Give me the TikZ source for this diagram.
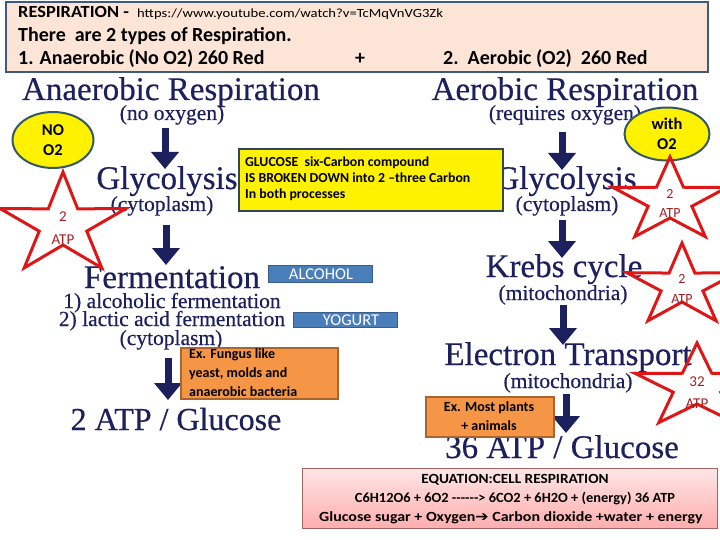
\documentclass[tikz,border=0pt]{standalone}
\usepackage{fontspec}
\usepackage{graphicx}
\setmainfont{Carlito}
\newfontfamily\seriffam{Liberation Serif}[FakeBold=0.5]
\newfontfamily\djv{DejaVu Sans}
\usetikzlibrary{arrows.meta,shapes.geometric,calc}
\definecolor{navy}{RGB}{28,32,92}
\definecolor{peach}{RGB}{252,228,214}
\definecolor{hdrborder}{RGB}{62,92,122}
\definecolor{ellborder}{RGB}{52,88,100}
\definecolor{ybord}{RGB}{48,72,90}
\definecolor{boxblue}{RGB}{74,126,187}
\definecolor{boxblueb}{RGB}{56,93,138}
\definecolor{orangefill}{RGB}{245,150,70}
\definecolor{orangeb}{RGB}{170,100,45}
\definecolor{starred}{RGB}{222,22,22}
\definecolor{atptext}{RGB}{165,30,35}
\definecolor{eqborder}{RGB}{160,100,100}
\newcommand\atpstar[5]{%
  \draw[starline,shift={(#1)}] (270:#2 and #3) -- (234:#4 and #5) -- (198:#2 and #3) -- (162:#4 and #5) -- (126:#2 and #3) -- (90:#4 and #5) -- (54:#2 and #3) -- (18:#4 and #5) -- (342:#2 and #3) -- (306:#4 and #5) -- cycle;}
\newcommand\hy{-\kern0pt}
\tikzset{
  hd/.style={font=\seriffam\fontsize{33}{33}\selectfont, text=navy, inner sep=0, anchor=base},
  sub/.style={font=\seriffam\fontsize{21.5}{21.5}\selectfont, text=navy, inner sep=0, anchor=base},
  bigarrow/.style={draw=navy, line width=7pt, -{Triangle[length=17pt,width=27pt]}},
  hdrtext/.style={font=\bfseries\fontsize{20}{20}\selectfont, inner sep=0, anchor=base west},
  boxtext/.style={font=\bfseries\fontsize{13.8}{13.8}\selectfont, inner sep=0, anchor=base west},
  o2ell/.style={ellipse, draw=ellborder, line width=2pt, fill=yellow, inner sep=0, align=center, font=\bfseries\fontsize{16.5}{20}\selectfont},
  starline/.style={draw=starred, line width=3pt, line join=miter},
  atp/.style={font=\fontsize{15}{15}\selectfont, text=atptext, inner sep=0, anchor=base},
  bluebox/.style={draw=boxblueb, line width=1pt, fill=boxblue, inner sep=0, anchor=north west},
  bluetext/.style={font=\fontsize{16.5}{16.5}\selectfont, text=white, inner sep=0},
  orbox/.style={draw=orangeb, line width=2pt, fill=orangefill, inner sep=0, anchor=north west},
  eqtext/.style={font=\bfseries\fontsize{14}{14}\selectfont, inner sep=0, anchor=base},
}
\begin{document}
\begin{tikzpicture}[x=1pt,y=-1pt]
\useasboundingbox (0,0) rectangle (720,540);
% header
\node[draw=hdrborder, line width=2pt, fill=peach, minimum width=702pt, minimum height=70pt, anchor=north west, inner sep=0] (hdr) at (5,1) {};
\node[hdrtext, font=\bfseries\fontsize{17}{17}\selectfont] (h1) at (18,18) {\scalebox{1.08}[1]{RESPIRATION -}};
\node[inner sep=0, anchor=base west, font=\fontsize{12.5}{12.5}\selectfont] (url) at (137,18) {\scalebox{1.17}[1]{https://www.youtube.com/watch?v=TcMqVnVG3Zk}};
\node[hdrtext] (h2) at (18,42) {There\ \ are 2 types of Respiration.};
\node[hdrtext] (h3) at (18,65) {1. Anaerobic (No O2) 260 Red};
\node[hdrtext] (hplus) at (355,65) {+};
\node[hdrtext] (h4) at (443,65) {2.\ \ Aerobic (O2)\ \ 260 Red};
% left column
\node[hd] (anaer) at (171,100) {Anaerobic Respiration};
\node[sub] (noox) at (172,120) {(no oxygen)};
\node[hd] (glyL) at (167,189) {Glycolysis};
\node[sub] (cytL) at (162,211) {(cytoplasm)};
\node[hd] (ferm) at (172,288) {Fermentation};
\node[sub] (alc) at (172,308) {1) alcoholic fermentation};
\node[sub] (lac) at (172,326) {2) lactic acid fermentation};
\node[sub] (cytF) at (171,345) {(cytoplasm)};
\node[hd, font=\seriffam\fontsize{32}{32}\selectfont] (twoatp) at (176,430) {2 ATP / Glucose};
% right column
\node[hd] (aer) at (565,100) {Aerobic Respiration};
\node[sub] (reqox) at (565,120) {(requires oxygen)};
\node[hd] (glyR) at (566,189) {Glycolysis};
\node[sub] (cytR) at (567,211) {(cytoplasm)};
\node[hd] (krebs) at (564,277) {Krebs cycle};
\node[sub] (mito1) at (563,300) {(mitochondria)};
\node[hd] (etc) at (568,365) {Electron Transport};
\node[sub] (mito2) at (568,388) {(mitochondria)};
\node[hd] (sixatp) at (562,458) {36 ATP / Glucose};
% arrows
\coordinate (a1s) at (165,128); \coordinate (a1e) at (165,169);
\coordinate (a2s) at (166,225); \coordinate (a2e) at (166,265);
\coordinate (a3s) at (168,358); \coordinate (a3e) at (168,400);
\coordinate (b1s) at (562,132); \coordinate (b1e) at (562,170);
\coordinate (b2s) at (562,220); \coordinate (b2e) at (562,258);
\coordinate (b3s) at (563,305); \coordinate (b3e) at (563,345);
\coordinate (b4s) at (566,394); \coordinate (b4e) at (566,433);
\draw[bigarrow] (a1s) -- (a1e);
\draw[bigarrow] (a2s) -- (a2e);
\draw[bigarrow] (a3s) -- (a3e);
\draw[bigarrow] (b1s) -- (b1e);
\draw[bigarrow] (b2s) -- (b2e);
\draw[bigarrow] (b3s) -- (b3e);
\draw[bigarrow] (b4s) -- (b4e);
% yellow glucose box
\node[draw=ybord, line width=2pt, fill=yellow, minimum width=264pt, minimum height=62pt, inner sep=0, anchor=north west] (gluc) at (238,148) {};
\node[boxtext] (g1) at (245,167) {GLUCOSE\ \ six-Carbon compound};
\node[boxtext] (g2) at (245,183) {IS BROKEN DOWN into 2 –three Carbon};
\node[boxtext] (g3) at (245,199) {In both processes};
% blue boxes
\node[bluebox, minimum width=104pt, minimum height=17pt] (alcbox) at (268,265) {};
\node[bluetext] (alctxt) at (321,274) {ALCOHOL};
\node[bluebox, minimum width=104pt, minimum height=15pt] (yogbox) at (293,312) {};
\node[bluetext] (yogtxt) at (351,320) {YOGURT};
% orange boxes
\node[orbox, minimum width=157pt, minimum height=51pt] (fung) at (180,347) {};
\node[boxtext, font=\bfseries\fontsize{14}{14}\selectfont] (f1) at (189,358) {Ex. Fungus like};
\node[boxtext, font=\bfseries\fontsize{14}{14}\selectfont] (f2) at (189,377) {yeast, molds and};
\node[boxtext, font=\bfseries\fontsize{14}{14}\selectfont] (f3) at (189,396) {anaerobic bacteria};
\node[orbox, minimum width=128pt, minimum height=40pt] (plants) at (425,396) {};
\node[eqtext, font=\bfseries\fontsize{14}{14}\selectfont] (p1) at (489,411) {Ex. Most plants};
\node[eqtext, font=\bfseries\fontsize{14}{14}\selectfont] (p2) at (489,430) {+ animals};
% ellipses
\node[o2ell, minimum width=81pt, minimum height=56pt] (noo2) at (53,140) {NO\\O2};
\node[o2ell, minimum width=85pt, minimum height=53pt] (witho2) at (667,134) {with\\O2};
% stars
\atpstar{63,225}{66}{53}{25}{20}
\node[atp] (s1a) at (63,222) {2};
\node[atp] (s1b) at (63,244) {ATP};
\atpstar{670,201}{60}{44}{23}{17}
\node[atp, font=\fontsize{14}{14}\selectfont] (s2a) at (670,199) {2};
\node[atp, font=\fontsize{14}{14}\selectfont] (s2b) at (670,218) {ATP};
\atpstar{682,286}{58}{43}{22}{16}
\node[atp, font=\fontsize{14}{14}\selectfont] (s3a) at (682,283) {2};
\node[atp, font=\fontsize{14}{14}\selectfont] (s3b) at (682,303) {ATP};
\atpstar{697,387}{65}{44}{25}{17}
\node[atp] (s4a) at (697,386) {32};
\node[atp] (s4b) at (697,408) {ATP};
% equation box
\node[draw=eqborder, line width=1pt, top color=red!10, bottom color=red!32, minimum width=415pt, minimum height=60pt, inner sep=0, anchor=north west] (eq) at (302,468) {};
\node[eqtext] (e1) at (515,483) {\scalebox{1.09}[1]{EQUATION:CELL RESPIRATION}};
\node[eqtext] (e2) at (515,502) {\scalebox{1.03}[1]{C6H12O6 + 6O2 \hy\hy\hy\hy\hy\hy> 6CO2 + 6H2O + (energy) 36 ATP}};
\node[eqtext] (e3) at (511,521) {\scalebox{1.14}[1]{Glucose sugar + Oxygen{\djv\bfseries ➔} Carbon dioxide +water + energy}};
\end{tikzpicture}
\end{document}
